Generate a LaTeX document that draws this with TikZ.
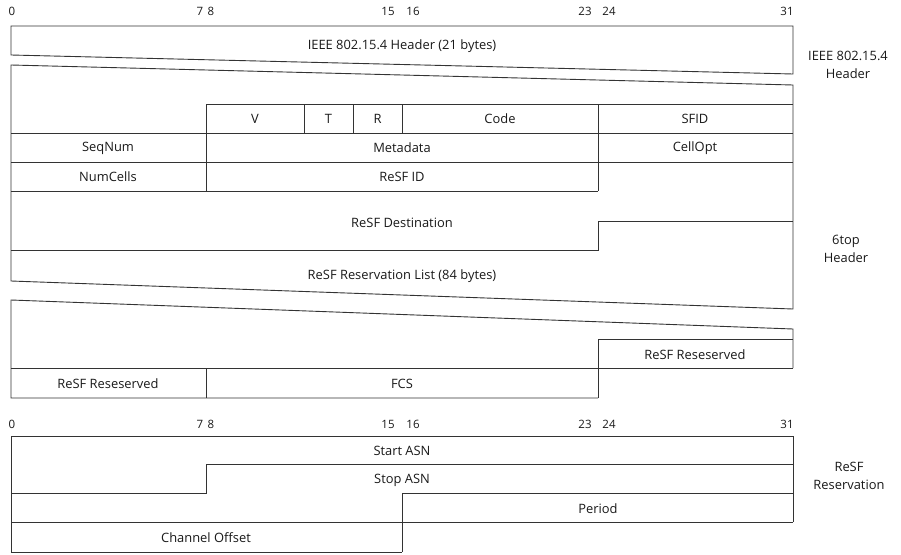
\documentclass[tikz,border=0pt]{standalone}
\usepackage{fontspec}
\setmainfont{Open Sans}
\usetikzlibrary{positioning}

\begin{document}
\begin{tikzpicture}[x=1pt,y=-1pt,
  field/.style={line width=0.9pt,draw=black!80,line join=miter},
  lbl/.style={font=\fontsize{12.9}{17.5}\selectfont,inner sep=0pt,text=black!90},
  bitno/.style={font=\fontsize{11.5}{14}\selectfont,inner sep=0pt,text=black!90},
  side/.style={lbl,align=center}]
\useasboundingbox (0,0) rectangle (901,554);

% bit numbers
\foreach \r/\y in {top/11,bot/424}
  \foreach \b/\x in {0/12,7/200,8/211,15/388,16/413,23/585,24/609,31/787}
    \node[bitno] (\r\b) at (\x,\y) {\b};

% IEEE 802.15.4 header
\draw[field] (11,55) -- (11,26) -- (793,26) -- (793,74) -- cycle;
\node[lbl] (hdr) at (402,46) {IEEE 802.15.4 Header (21 bytes)};

% 6top header
\draw[field] (11,65) -- (793,85) -- (793,309) -- (11,281) -- cycle;
\draw[field] (206,104) -- (793,104);
\draw[field] (11,133) -- (793,133) (11,162) -- (793,162);
\draw[field] (206,104) -- (206,191) (598,104) -- (598,191);
\foreach \x in {304,353,402} \draw[field] (\x,104) -- (\x,133);
\draw[field] (11,191) -- (598,191);
\draw[field] (598,221) -- (793,221) (598,221) -- (598,250) -- (11,250);

\node[lbl] (ver) at (255,119) {V};
\node[lbl] (typ) at (328.5,119) {T};
\node[lbl] (rsv) at (377.5,119) {R};
\node[lbl] (code) at (500,119) {Code};
\node[lbl] (sfid) at (695,119) {SFID};
\node[lbl] (seq) at (108,148) {SeqNum};
\node[lbl] (meta) at (402,148) {Metadata};
\node[lbl] (copt) at (695,148) {CellOpt};
\node[lbl] (ncell) at (108,177) {NumCells};
\node[lbl] (rid) at (402,177) {ReSF ID};
\node[lbl] (rdst) at (402,223) {ReSF Destination};
\node[lbl] (rlist) at (402,276) {ReSF Reservation List (84 bytes)};

% trailer
\draw[field] (598,398) -- (11,398) -- (11,300) -- (793,329) -- (793,368);
\draw[field] (11,368) -- (793,368) (598,339) -- (793,339);
\draw[field] (598,339) -- (598,398) (206,368) -- (206,398);
\node[lbl] (rres1) at (695,355) {ReSF Reseserved};
\node[lbl] (rres2) at (108,384) {ReSF Reseserved};
\node[lbl] (fcs) at (402,384) {FCS};

% ReSF reservation
\draw[field] (793,522) -- (793,436) -- (11,436) -- (11,552) -- (402,552);
\draw[field] (793,464) -- (206,464) -- (206,493) -- (11,493);
\draw[field] (793,493) -- (402,493) -- (402,552);
\draw[field] (11,522) -- (793,522);
\node[lbl] (start) at (402,451) {Start ASN};
\node[lbl] (stop) at (402,480) {Stop ASN};
\node[lbl] (per) at (598,509) {Period};
\node[lbl] (choff) at (206,538) {Channel Offset};

% side labels
\node[side] (s1) at (848,65) {IEEE 802.15.4\\Header};
\node[side] (s2) at (846,249) {6top\\Header};
\node[side] (s3) at (849,476) {ReSF\\Reservation};
\end{tikzpicture}
\end{document}
